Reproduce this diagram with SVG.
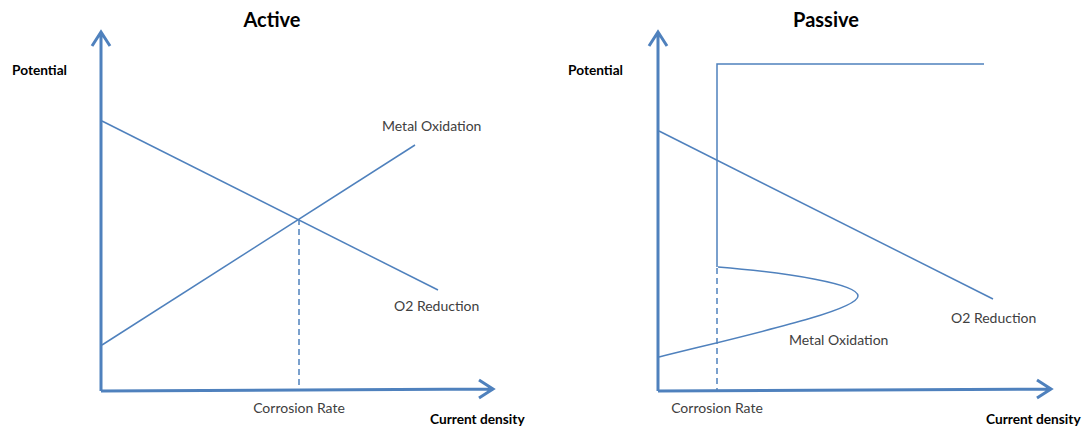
<svg xmlns="http://www.w3.org/2000/svg" width="1084" height="430" viewBox="0 0 1084 430">
<style>
.ax{stroke:#4f81bd;stroke-width:3;fill:none}
.ln{stroke:#4f81bd;stroke-width:1.5;fill:none}
.ds{stroke:#4f81bd;stroke-width:1.5;fill:none;stroke-dasharray:6,4}
.t{font-family:Lato,"Open Sans","Liberation Sans",sans-serif;font-size:14px;fill:#404040}
.b{font-family:Lato,"Open Sans","Liberation Sans",sans-serif;font-size:13.7px;font-weight:bold;fill:#000}
.h{font-family:Lato,"Open Sans","Liberation Sans",sans-serif;font-size:20px;font-weight:bold;fill:#000}
</style>
<rect width="1084" height="430" fill="#fff"/>
<g id="active">
<text class="h" x="272" y="27" text-anchor="middle">Active</text>
<g id="active-axes">
<path class="ax" d="M101,391 L101,32 M92,46 L101,32 L110,46"/>
<path class="ax" d="M101,391 L493,389 M479,380 L493,389 L479,398"/>
</g>
<text class="b" x="12" y="75">Potential</text>
<text class="b" x="430" y="424">Current density</text>
<g id="active-lines">
<path class="ln" d="M102,121 L438,290"/>
<path class="ln" d="M102,345 L415,145"/>
<path class="ds" d="M299,219 L299,391"/>
</g>
<text class="t" x="382" y="131">Metal Oxidation</text>
<text class="t" x="394" y="311">O2 Reduction</text>
<text class="t" x="299" y="413" text-anchor="middle">Corrosion Rate</text>
</g>
<g id="passive">
<text class="h" x="826" y="27" text-anchor="middle">Passive</text>
<g id="passive-axes">
<path class="ax" d="M658,391 L658,32 M649,46 L658,32 L667,46"/>
<path class="ax" d="M658,391 L1051,389 M1037,380 L1051,389 L1037,398"/>
</g>
<text class="b" x="568" y="75">Potential</text>
<text class="b" x="986" y="424">Current density</text>
<g id="passive-lines">
<path class="ln" d="M717,267 L717,64 L984,64"/>
<path class="ln" d="M718,267 C790,273 858,284 858,296 C858,310 760,332 659,357"/>
<path class="ds" d="M717,268 L717,391"/>
<path class="ln" d="M659,131 L993,299"/>
</g>
<text class="t" x="951" y="323">O2 Reduction</text>
<text class="t" x="789" y="345">Metal Oxidation</text>
<text class="t" x="717" y="413" text-anchor="middle">Corrosion Rate</text>
</g>
</svg>
